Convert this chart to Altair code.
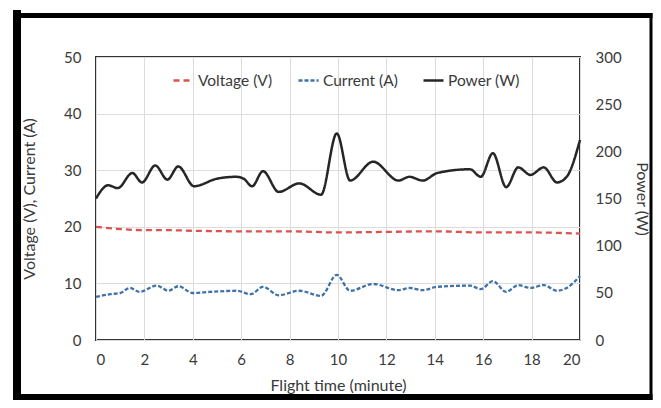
import altair as alt
import pandas as pd

# ---- data ----
power_t = [0, 0.5, 0.9, 1.5, 1.9, 2.45, 2.95, 3.4, 4.05, 5.0, 5.8, 6.1, 6.45, 6.9, 7.55, 8.4, 9.3,
           9.95, 10.5, 11.45, 12.5, 12.95, 13.5, 14.1, 15.45, 15.9, 16.4, 16.95, 17.45, 17.95,
           18.5, 19.05, 19.45, 20.0]
power = [150, 164, 161, 177, 167, 185, 170, 184, 163, 171, 173, 171, 163, 179, 157, 166, 154,
         219, 169, 189, 169, 173, 169, 177, 181, 173, 198, 162, 183, 175, 183, 167, 173, 212]

current_t = [0, 0.6, 1.0, 1.4, 1.8, 2.5, 3.0, 3.4, 4.0, 4.7, 5.8, 6.4, 6.9, 7.55, 8.4, 9.3, 9.95,
             10.5, 11.45, 12.5, 12.95, 13.5, 14.1, 15.45, 15.9, 16.4, 16.95, 17.45, 17.95, 18.5,
             19.05, 19.45, 20.0]
current = [7.6, 8.1, 8.3, 9.2, 8.5, 9.6, 8.7, 9.5, 8.3, 8.5, 8.7, 8.1, 9.4, 7.9, 8.7, 7.8, 11.5,
           8.7, 9.9, 8.8, 9.2, 8.8, 9.4, 9.6, 9.0, 10.4, 8.5, 9.7, 9.2, 9.7, 8.7, 9.2, 11.3]

voltage_t = [0, 1, 2, 3, 4, 6, 8, 10, 12, 14, 16, 18, 20]
voltage = [20.0, 19.6, 19.4, 19.4, 19.3, 19.2, 19.2, 19.0, 19.1, 19.2, 19.0, 19.0, 18.8]

series_names = ["Voltage (V)", "Current (A)", "Power (W)"]
series_colors = ["#d9534f", "#3f73a8", "#262626"]
series_dashes = [[6, 4], [4, 2], [1, 0]]

x_ticks = list(range(0, 21, 2))
left_ticks = list(range(0, 51, 10))
right_ticks = list(range(0, 301, 50))

# decorative outer frame (pixel offsets from the plot origin)
frame = pd.DataFrame({
    "x":  [-83, -79, 555, -83],
    "x2": [556.5, -79, 555, 556.5],
    "y":  [-41.5, -47, -44, 340],
    "y2": [-41.5, 343, 343, 340],
    "w":  [5, 8, 3, 6],
})

# ---- build tables ----
vi_rows = [{"t": t, "v": v, "series": series_names[0]} for t, v in zip(voltage_t, voltage)]
vi_rows += [{"t": t, "v": v, "series": series_names[1]} for t, v in zip(current_t, current)]
df_vi = pd.DataFrame(vi_rows)
df_p = pd.DataFrame({"t": power_t, "v": power, "series": series_names[2]})

FONT = "Lato"
TXT = "#3a3a3a"

color = alt.Color("series:N", scale=alt.Scale(domain=series_names, range=series_colors),
                  legend=alt.Legend(title=None, orient="none", legendX=76, legendY=12,
                                    direction="horizontal", symbolType="stroke",
                                    symbolSize=400, symbolStrokeWidth=2.5,
                                    labelFontSize=15.5, labelFont=FONT, labelColor=TXT,
                                    columnPadding=20, labelOffset=3, padding=0))
dash = alt.StrokeDash("series:N", scale=alt.Scale(domain=series_names, range=series_dashes),
                      legend=None)

x_enc = alt.X("t:Q", scale=alt.Scale(domain=[0, 20], nice=False),
              axis=alt.Axis(values=x_ticks, title="Flight time (minute)", grid=True,
                            gridColor="#dcdcdc", ticks=False, domain=False,
                            labelPadding=12, titlePadding=10))

left = alt.Chart(df_vi).mark_line(interpolate="monotone", strokeWidth=2.3).encode(
    x=x_enc,
    y=alt.Y("v:Q", scale=alt.Scale(domain=[0, 50], nice=False),
            axis=alt.Axis(values=left_ticks, title="Voltage (V), Current (A)", grid=True,
                          gridColor="#dcdcdc", ticks=False, domain=False,
                          labelPadding=15, titlePadding=26)),
    color=color,
    strokeDash=dash,
    detail="series:N",
)

right = alt.Chart(df_p).mark_line(interpolate="monotone", strokeWidth=2.5).encode(
    x=x_enc,
    y=alt.Y("v:Q", scale=alt.Scale(domain=[0, 300], nice=False),
            axis=alt.Axis(values=right_ticks, orient="right", title="Power (W)", grid=False,
                          ticks=False, domain=False, labelPadding=15, titlePadding=12)),
    color=color,
    strokeDash=dash,
)

frame_layer = alt.Chart(frame).mark_rule(color="#000000").encode(
    x=alt.X("x:Q", scale=None),
    x2="x2:Q",
    y=alt.Y("y:Q", scale=None),
    y2="y2:Q",
    strokeWidth=alt.StrokeWidth("w:Q", scale=None, legend=None),
)

chart = alt.layer(left, right, frame_layer).resolve_scale(y="independent").properties(
    width=484, height=283,
    autosize=alt.AutoSizeParams(type="none"),
    padding={"left": 88, "top": 49, "right": 73, "bottom": 60},
    background="#ffffff",
).configure_view(
    stroke="#333333", strokeWidth=2
).configure_axis(
    labelFont=FONT, titleFont=FONT, labelFontSize=15, titleFontSize=16,
    labelColor=TXT, titleColor=TXT, titleFontWeight="normal",
)

chart.save("out.html", embed_options={"renderer": "svg", "actions": False})
